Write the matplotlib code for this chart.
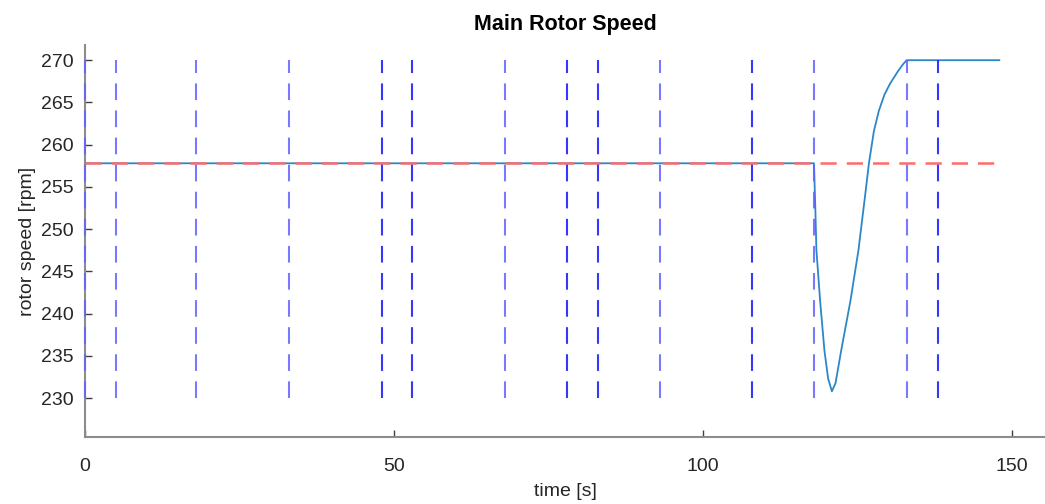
import matplotlib.pyplot as plt

plt.rcParams['font.family'] = ['Liberation Sans', 'DejaVu Sans']

# rotor speed trace [s], [rpm]
time = [0, 118, 118.2, 118.4, 119.0, 119.7, 120.3, 120.9, 121.5, 122.4, 123.9,
        125.2, 126.2, 126.9, 127.7, 128.5, 129.4, 130.3, 131.6, 132.4, 133, 148]
speed = [257.8, 257.8, 253.0, 247.5, 241.5, 235.6, 232.3, 230.8, 231.8, 235.6, 241.5,
         247.5, 253.5, 257.8, 261.6, 264.0, 265.9, 267.2, 268.7, 269.5, 270.0, 270.0]

# reference speed
ref_time = [0, 148]
ref_speed = [257.8, 257.8]

# event markers
events_light = [0, 5, 18, 33, 68, 93, 118, 133]
events_dark = [48, 53, 78, 83, 108, 138]
ev_lo, ev_hi = 230, 270

fig = plt.figure(figsize=(10.45, 5.04), dpi=100)
ax = fig.add_axes([85 / 1045, 67 / 504, 1 - 85 / 1045, 392 / 504])

ax.plot(time, speed, color='#2c87c8', lw=1.3, zorder=2)
ax.plot(ref_time, ref_speed, color='#ff6b6b', lw=1.8, dashes=(6.5, 4), zorder=2.2)

for t in events_light:
    ax.plot([t, t], [ev_lo, ev_hi], color='#6262ff', lw=1.5, alpha=0.85,
            dashes=(8, 5), zorder=3, clip_on=False)
for t in events_dark:
    ax.plot([t, t], [ev_lo, ev_hi], color='#2020ff', lw=1.5, alpha=0.9,
            dashes=(8, 5), zorder=3, clip_on=False)

ax.set_xlim(0, 155.4)
ax.set_ylim(225.4, 271.8)
ax.set_xticks([0, 50, 100, 150])
ax.set_yticks(range(230, 271, 5))

for s in ['top', 'right']:
    ax.spines[s].set_visible(False)
for s in ['left', 'bottom']:
    ax.spines[s].set_color('#8c8c8c')
    ax.spines[s].set_linewidth(1.5)

ax.tick_params(direction='in', length=5, width=1, color='#404040',
               labelsize=14, labelcolor='#262626', pad=8)
ax.tick_params(axis='x', pad=15)

ax.set_xlabel('time [s]', fontsize=14, color='#262626', labelpad=6)
ax.set_ylabel('rotor speed [rpm]', fontsize=14, color='#262626', labelpad=4)
ax.set_title('Main Rotor Speed', fontsize=15.5, fontweight='bold', pad=11)

fig.savefig('out.png', dpi=100)
